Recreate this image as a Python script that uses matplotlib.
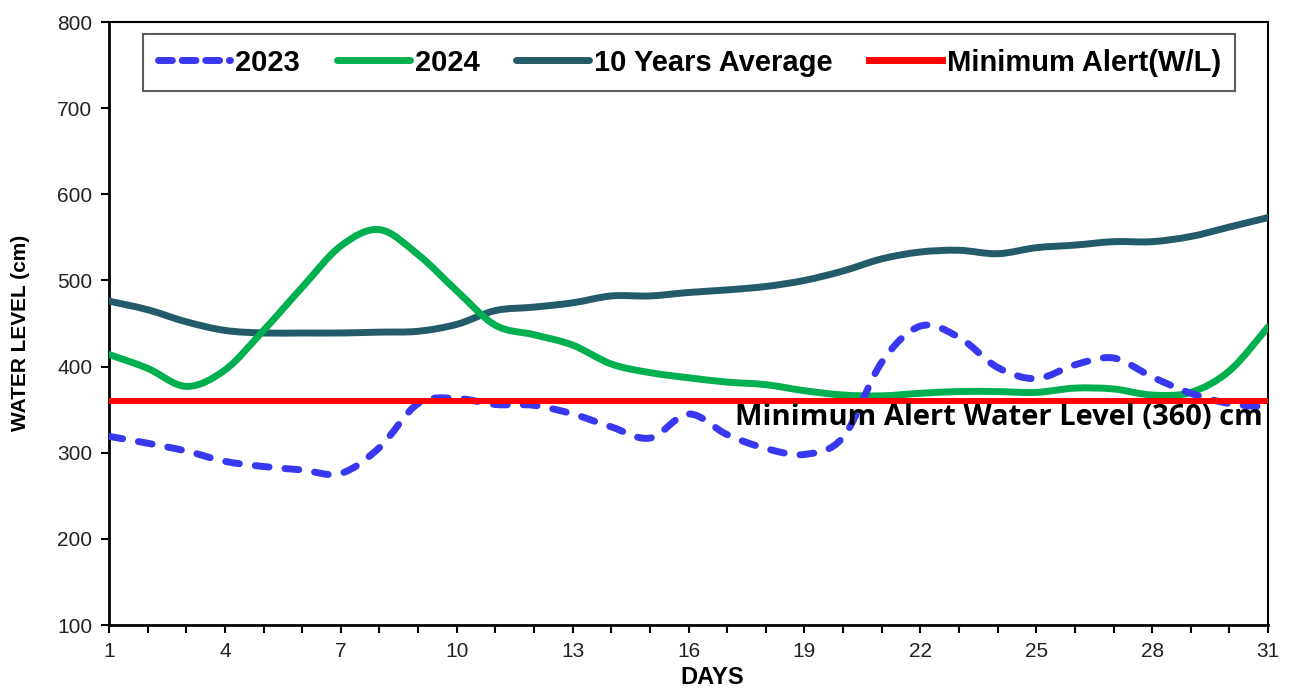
import numpy as np
import matplotlib
matplotlib.use("Agg")
from matplotlib import pyplot as plt
from matplotlib.path import Path
from matplotlib.patches import PathPatch
from matplotlib.lines import Line2D

days = list(range(1, 32))
wl_2023 = [319, 311, 302, 290, 284, 280, 276, 306, 357, 363, 356, 355, 345, 330, 317,
           345, 321, 305, 298, 318, 405, 447, 434, 399, 386, 402, 410, 388, 369, 357, 353]
wl_2024 = [414, 398, 377, 396, 442, 492, 540, 559, 530, 488, 448, 437, 425, 403, 393,
           387, 382, 379, 372, 367, 366, 369, 371, 371, 370, 375, 374, 367, 370, 395, 446]
avg_10y = [476, 466, 452, 442, 439, 439, 439, 440, 441, 449, 465, 469, 474, 482, 482,
           486, 489, 493, 500, 511, 525, 533, 535, 531, 538, 541, 545, 545, 551, 562, 573]
min_alert = 360

c_2023 = "#3838F0"
c_2024 = "#00B050"
c_avg = "#245B68"
c_alert = "#FF0000"


def smooth_path(x, y):
    # excel-like smoothed line: catmull-rom segments as cubic bezier
    pts = np.column_stack([x, y]).astype(float)
    n = len(pts)
    verts = [pts[0]]
    codes = [Path.MOVETO]
    for i in range(n - 1):
        p0 = pts[i - 1] if i > 0 else pts[i]
        p1 = pts[i]
        p2 = pts[i + 1]
        p3 = pts[i + 2] if i + 2 < n else pts[i + 1]
        verts += [p1 + (p2 - p0) / 6, p2 - (p3 - p1) / 6, p2]
        codes += [Path.CURVE4] * 3
    return Path(verts, codes)


fig = plt.figure(figsize=(12.93, 6.9), dpi=100)
ax = fig.add_axes([0.0843, 0.0942, 0.8964, 0.8739])

lw = 5
ax.add_patch(PathPatch(smooth_path(days, avg_10y), fill=False, edgecolor=c_avg,
                       lw=lw, capstyle="round", joinstyle="round", zorder=3))
ax.add_patch(PathPatch(smooth_path(days, wl_2024), fill=False, edgecolor=c_2024,
                       lw=lw, capstyle="round", joinstyle="round", zorder=4))
ax.add_patch(PathPatch(smooth_path(days, wl_2023), fill=False, edgecolor=c_2023,
                       lw=lw, linestyle=(0, (2, 2.3)), capstyle="round", zorder=5))
ax.plot([days[0], days[-1]], [min_alert, min_alert], color=c_alert, lw=4.3, zorder=6,
        solid_capstyle="butt")

ax.text(30.87, min_alert - 2, "Minimum Alert Water Level (360) cm", ha="right", va="top",
        fontsize=21, fontweight="bold", family=["Open Sans", "DejaVu Sans"], color="black",
        zorder=7)

ax.set_xlim(1, 31)
ax.set_ylim(100, 800)
ax.set_xticks(range(1, 32, 3))
ax.set_xticks(days, minor=True)
ax.set_yticks(range(100, 801, 100))
ax.tick_params(axis="both", which="both", direction="out", length=6, width=1.5,
               labelsize=15, labelcolor="#222222", pad=6)

for side in ["left", "bottom"]:
    ax.spines[side].set_linewidth(2)
for side in ["top", "right"]:
    ax.spines[side].set_linewidth(1.5)

ax.set_xlabel("DAYS", fontsize=17, fontweight="bold", family="Liberation Sans")
ax.xaxis.set_label_coords(0.52, -0.068)
ax.set_ylabel("WATER LEVEL (cm)", fontsize=15, fontweight="bold", family="Liberation Sans")
ax.yaxis.set_label_coords(-0.068, 0.485)
for lab in ax.get_xticklabels() + ax.get_yticklabels():
    lab.set_family("Liberation Sans")

handles = [
    Line2D([], [], color=c_2023, lw=lw, linestyle=(0, (2, 1.4)), dash_capstyle="round"),
    Line2D([], [], color=c_2024, lw=lw, solid_capstyle="round"),
    Line2D([], [], color=c_avg, lw=lw, solid_capstyle="round"),
    Line2D([], [], color=c_alert, lw=lw),
]
labels = ["2023", "2024", "10 Years Average", "Minimum Alert(W/L)"]
leg = ax.legend(handles, labels, ncol=4, loc="upper left",
                bbox_to_anchor=(0.0293, 0.98),
                prop={"family": "Liberation Sans", "weight": "bold", "size": 21},
                frameon=True, fancybox=False, edgecolor="#333333",
                handlelength=2.5, handletextpad=0.17, columnspacing=1.25,
                borderpad=0.5, borderaxespad=0)
leg.get_frame().set_linewidth(1.5)

fig.savefig("out.png", dpi=100)
